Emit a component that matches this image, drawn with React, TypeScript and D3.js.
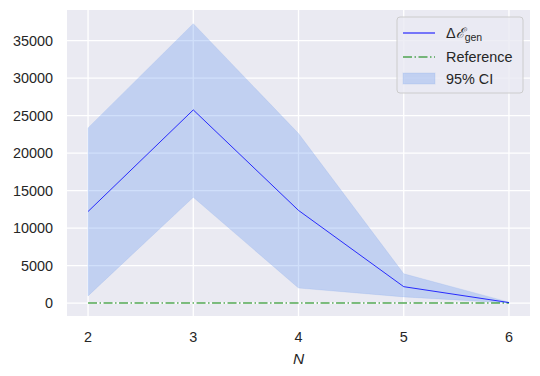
import React, { useEffect, useRef } from "react";
import * as d3 from "d3";

const nValues = [2, 3, 4, 5, 6];
const meanGap = [12200, 25750, 12350, 2180, 60];
const ciLower = [950, 14100, 2000, 820, 0];
const ciUpper = [23350, 37250, 22600, 3900, 120];
const referenceValues = [0, 0, 0, 0, 0];
const yTicks = [0, 5000, 10000, 15000, 20000, 25000, 30000, 35000];

const width = 540;
const height = 376;
const margin = { top: 10, right: 10, bottom: 60, left: 67 };

const App = () => {
  const ref = useRef<SVGSVGElement | null>(null);

  useEffect(() => {
    const svg = d3.select(ref.current);
    svg.selectAll("*").remove();

    const x = d3.scaleLinear().domain([1.8, 6.2]).range([margin.left, width - margin.right]);
    const y = d3.scaleLinear().domain([-1730, 39070]).range([height - margin.bottom, margin.top]);
    const font = "'Liberation Sans', Arial, sans-serif";
    const dash = "9,2.5,1.5,2.5";

    svg.append("rect")
      .attr("x", margin.left)
      .attr("y", margin.top)
      .attr("width", width - margin.left - margin.right)
      .attr("height", height - margin.top - margin.bottom)
      .attr("fill", "#eaeaf2");

    // grid
    svg.selectAll(".gx").data(nValues).enter().append("line")
      .attr("x1", d => x(d)).attr("x2", d => x(d))
      .attr("y1", margin.top).attr("y2", height - margin.bottom)
      .attr("stroke", "white").attr("stroke-width", 1.3);
    svg.selectAll(".gy").data(yTicks).enter().append("line")
      .attr("x1", margin.left).attr("x2", width - margin.right)
      .attr("y1", d => y(d)).attr("y2", d => y(d))
      .attr("stroke", "white").attr("stroke-width", 1.3);

    const idx = d3.range(nValues.length);

    const area = d3.area<number>()
      .x(i => x(nValues[i]))
      .y0(i => y(ciLower[i]))
      .y1(i => y(ciUpper[i]));
    svg.append("path")
      .attr("d", area(idx))
      .attr("fill", "cornflowerblue")
      .attr("fill-opacity", 0.3)
      .attr("stroke", "cornflowerblue")
      .attr("stroke-opacity", 0.15)
      .attr("stroke-width", 1);

    const line = (vals: number[]) => d3.line<number>().x(i => x(nValues[i])).y(i => y(vals[i]))(idx);

    svg.append("path")
      .attr("d", line(referenceValues))
      .attr("fill", "none")
      .attr("stroke", "green")
      .attr("stroke-width", 1.1)
      .attr("stroke-dasharray", dash);

    svg.append("path")
      .attr("d", line(meanGap))
      .attr("fill", "none")
      .attr("stroke", "blue")
      .attr("stroke-width", 0.8);

    // tick labels
    svg.selectAll(".yl").data(yTicks).enter().append("text")
      .attr("x", 53).attr("y", d => y(d) + 5)
      .attr("text-anchor", "end")
      .attr("font-family", font).attr("font-size", 14.4)
      .attr("fill", "#262626")
      .text(d => String(d));
    svg.selectAll(".xl").data(nValues).enter().append("text")
      .attr("x", d => x(d)).attr("y", 342)
      .attr("text-anchor", "middle")
      .attr("font-family", font).attr("font-size", 14.4)
      .attr("fill", "#262626")
      .text(d => String(d));
    svg.append("text")
      .attr("x", (margin.left + width - margin.right) / 2).attr("y", 364)
      .attr("text-anchor", "middle")
      .attr("font-family", font).attr("font-size", 15.5)
      .attr("font-style", "italic")
      .attr("fill", "#262626")
      .text("N");

    // legend
    const lg = svg.append("g");
    lg.append("rect")
      .attr("x", 397).attr("y", 17).attr("width", 126).attr("height", 76)
      .attr("rx", 3)
      .attr("fill", "#eaeaf2").attr("fill-opacity", 0.8)
      .attr("stroke", "#cccccc").attr("stroke-width", 1);
    lg.append("line").attr("x1", 403).attr("x2", 435).attr("y1", 33).attr("y2", 33)
      .attr("stroke", "blue").attr("stroke-width", 1);
    lg.append("line").attr("x1", 403).attr("x2", 435).attr("y1", 57).attr("y2", 57)
      .attr("stroke", "green").attr("stroke-width", 1.1).attr("stroke-dasharray", dash);
    lg.append("rect").attr("x", 403).attr("y", 73).attr("width", 32).attr("height", 11)
      .attr("fill", "cornflowerblue").attr("fill-opacity", 0.3)
      .attr("stroke", "cornflowerblue").attr("stroke-opacity", 0.15);
    const t1 = lg.append("text").attr("x", 446).attr("y", 38)
      .attr("font-family", font).attr("font-size", 14.4).attr("fill", "#262626");
    t1.append("tspan").text("Δ");
    t1.append("tspan").attr("font-family", "'DejaVu Serif', serif").attr("font-style", "italic").text("ℰ");
    t1.append("tspan").attr("font-size", 10.5).attr("dy", 3).text("gen");
    lg.append("text").attr("x", 446).attr("y", 62)
      .attr("font-family", font).attr("font-size", 14.4).attr("fill", "#262626")
      .text("Reference");
    lg.append("text").attr("x", 446).attr("y", 84)
      .attr("font-family", font).attr("font-size", 14.4).attr("fill", "#262626")
      .text("95% CI");
  }, []);

  return <svg ref={ref} width={width} height={height} style={{ position: "absolute", left: 0, top: 0 }} />;
};

export default App;
